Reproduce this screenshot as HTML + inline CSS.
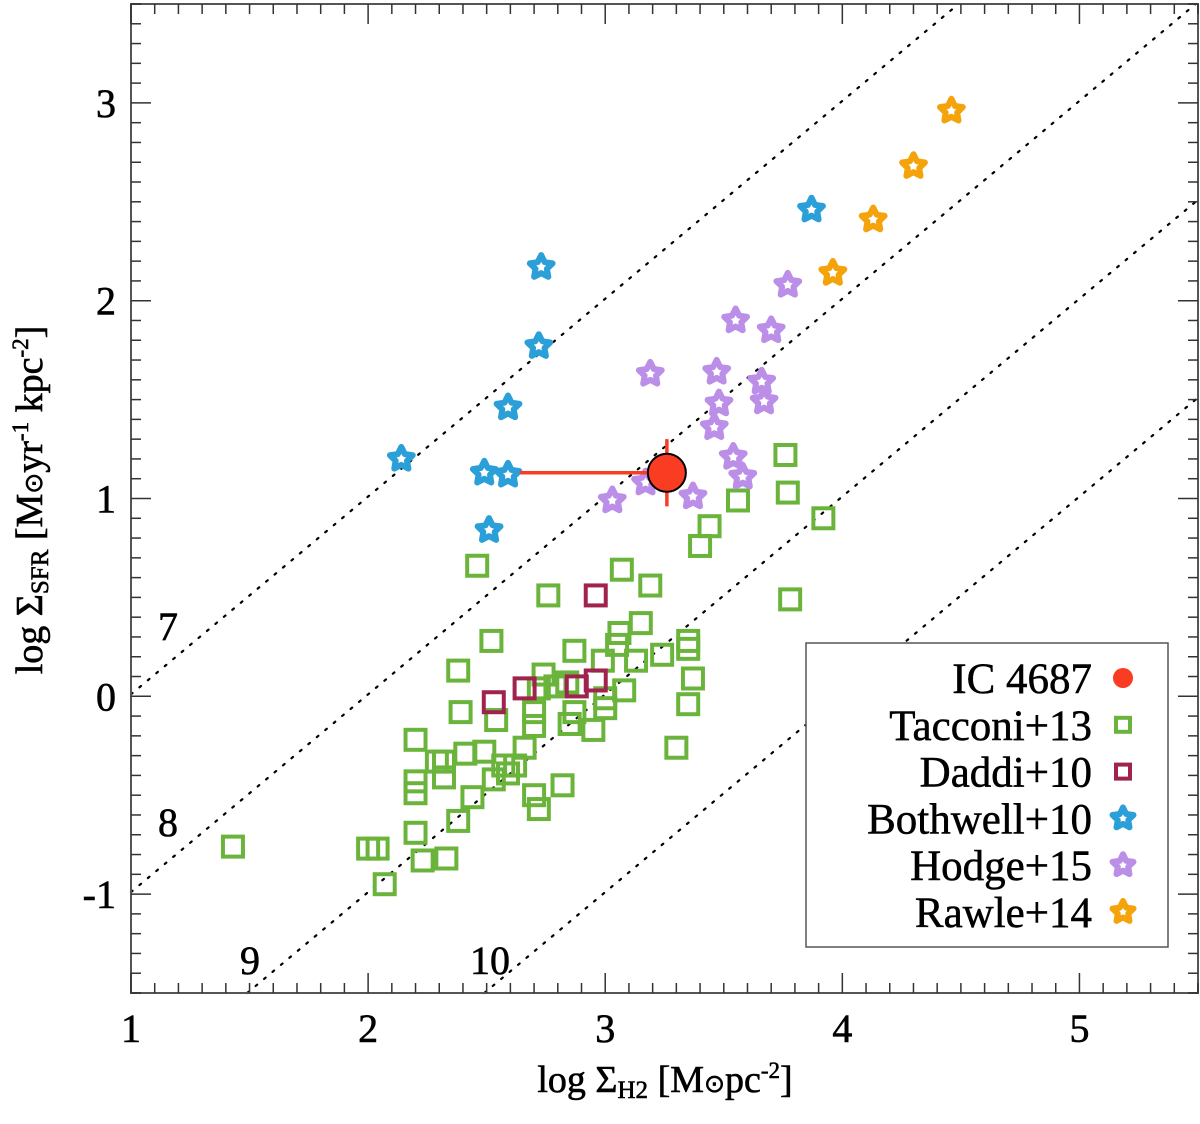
<!DOCTYPE html>
<html><head><meta charset="utf-8"><style>
body{margin:0;background:#fff}
svg text{font-family:"Liberation Serif",serif;fill:#000}
</style></head><body>
<svg id="chart" width="1200" height="1119" xmlns="http://www.w3.org/2000/svg">
<g id="lines"></g>
<g id="axes"></g>
<g id="marks"></g>
<g id="legend"></g>
<text x="665" y="1092" font-size="38" text-anchor="middle" stroke="#000" stroke-width="0.6">log Σ<tspan font-size="25" dy="6">H2</tspan><tspan dy="-6">  [M</tspan><tspan font-family="DejaVu Sans" font-size="25">⊙</tspan><tspan>pc</tspan><tspan font-size="23" dy="-14">-2</tspan><tspan dy="14">]</tspan></text>
<text transform="translate(42,500) rotate(-90)" font-size="38" text-anchor="middle" stroke="#000" stroke-width="0.6">log Σ<tspan font-size="25" dy="6">SFR</tspan><tspan dy="-6"> [M</tspan><tspan font-family="DejaVu Sans" font-size="25">⊙</tspan><tspan>yr</tspan><tspan font-size="23" dy="-14">-1</tspan><tspan dy="14"> kpc</tspan><tspan font-size="23" dy="-14">-2</tspan><tspan dy="14">]</tspan></text>
</svg>
<script>
const xTicks=[1,2,3,4,5];
const yTicks=[-1,0,1,2,3];
const depletionTimes=[7,8,9,10];
const ic4687=[3.26,1.13]; const icXerrLow=2.64; const icYerr=[0.96,1.30];
const taccX=[1.43,2.46,2.76,3.07,3.19,3.40,2.52,2.87,3.15,3.06,3.05,2.99,3.13,3.24,3.35,3.35,2.38,2.39,2.54,2.74,2.72,2.79,2.84,3.08,3.00,3.37,3.35,2.70,2.70,2.87,2.85,2.95,3.00,2.20,2.29,2.32,2.41,2.49,2.57,2.62,2.59,2.66,3.30,2.20,2.20,2.32,2.53,2.44,2.70,2.72,2.82,2.38,2.20,2.00,2.04,2.23,2.33,2.07,3.76,3.77,3.92,3.78,3.44,3.56];
const taccY=[-0.76,0.66,0.51,0.64,0.56,0.76,0.28,0.23,0.37,0.32,0.26,0.18,0.18,0.21,0.28,0.24,0.13,-0.08,-0.12,0.11,0.04,0.05,0.07,0.03,-0.01,0.09,-0.04,-0.08,-0.15,-0.08,-0.14,-0.17,-0.06,-0.22,-0.33,-0.33,-0.29,-0.28,-0.35,-0.35,-0.39,-0.26,-0.26,-0.43,-0.49,-0.41,-0.42,-0.51,-0.50,-0.57,-0.45,-0.63,-0.69,-0.77,-0.77,-0.83,-0.82,-0.95,1.22,1.03,0.90,0.49,0.86,0.99];
const daddiX=[2.96,2.53,2.66,2.88,2.96];
const daddiY=[0.51,-0.03,0.04,0.05,0.08];
const bothX=[3.87,2.73,2.72,2.59,2.14,2.49,2.59,2.51];
const bothY=[2.46,2.17,1.77,1.46,1.20,1.13,1.12,0.84];
const hodgeX=[3.19,3.47,3.48,3.46,3.55,3.77,3.70,3.66,3.67,3.54,3.58,3.37,3.03,3.17];
const hodgeY=[1.63,1.64,1.48,1.36,1.90,2.08,1.85,1.59,1.49,1.21,1.11,1.01,0.99,1.08];
const rawleX=[4.46,4.30,4.13,3.96];
const rawleY=[2.96,2.68,2.41,2.14];
const legendLabels=["IC 4687","Tacconi+13","Daddi+10","Bothwell+10","Hodge+15","Rawle+14"];

const L=131,R=1198,T=4,B=993,X0=1,X1=5.5,Y0=-1.5,Y1=3.5;
const sx=v=>L+(v-X0)/(X1-X0)*(R-L), sy=v=>B-(v-Y0)/(Y1-Y0)*(B-T);
const NS='http://www.w3.org/2000/svg';
function mk(t,a,p){const e=document.createElementNS(NS,t);for(const k in a)e.setAttribute(k,a[k]);p.appendChild(e);return e;}
const GR='#6ab43c',MR='#a0234e',BL='#2a9fd8',VI='#bb8ee8',OR='#f5a30a',RD='#fa3c23';

const lg=document.getElementById('lines');
depletionTimes.forEach(t=>{const off=6-t+0.01;
 const xa=Math.max(X0,Y0-off), xb=Math.min(X1,Y1-off);
 const l=mk('line',{x1:sx(xa),y1:sy(xa+off),x2:sx(xb),y2:sy(xb+off),stroke:'#000','stroke-width':2.2,'stroke-dasharray':'2 9','stroke-linecap':'round'},lg);
 
 
});
[['7',168,640],['8',168,836],['9',250,974],['10',490,974]].forEach(d=>{const e=mk('text',{x:d[1],y:d[2],'font-size':40,'text-anchor':'middle',stroke:'#000','stroke-width':0.6},lg);e.textContent=d[0];
 
 });

const ax=document.getElementById('axes');
const fr=mk('rect',{x:L,y:T,width:R-L,height:B-T,fill:'none',stroke:'#555','stroke-width':2},ax);


for(let v=X0;v<=X1+1e-9;v+=0.1){const maj=Math.abs(v-Math.round(v))<1e-6;const len=maj?20:10;const x=sx(v);
 mk('line',{x1:x,y1:B,x2:x,y2:B-len,stroke:'#333','stroke-width':1.5},ax);
 mk('line',{x1:x,y1:T,x2:x,y2:T+len,stroke:'#333','stroke-width':1.5},ax);}
for(let v=Y0;v<=Y1+1e-9;v+=0.1){const maj=Math.abs(v-Math.round(v))<1e-6;const len=maj?20:10;const y=sy(v);
 mk('line',{x1:L,y1:y,x2:L+len,y2:y,stroke:'#333','stroke-width':1.5},ax);
 mk('line',{x1:R,y1:y,x2:R-len,y2:y,stroke:'#333','stroke-width':1.5},ax);}
xTicks.forEach(v=>{const e=mk('text',{x:sx(v),y:1042,'font-size':40,'text-anchor':'middle',stroke:'#000','stroke-width':0.6},ax);e.textContent=v;
 
 });
yTicks.forEach(v=>{const e=mk('text',{x:116,y:sy(v)+14,'font-size':40,'text-anchor':'end',stroke:'#000','stroke-width':0.6},ax);e.textContent=v;
 
 });

const mg=document.getElementById('marks');
function square(x,y,c,s,p){return mk('rect',{x:x-s,y:y-s,width:2*s,height:2*s,fill:'none',stroke:c,'stroke-width':4},p);}
function star(x,y,c,r,p){let pts=[];for(let i=0;i<10;i++){const a=-Math.PI/2+i*Math.PI/5;const rr=i%2?r*0.5:r;pts.push((x+rr*Math.cos(a)).toFixed(1)+','+(y+rr*Math.sin(a)).toFixed(1));}
 return mk('polygon',{points:pts.join(' '),fill:'#fff',stroke:c,'stroke-width':6,'stroke-linejoin':'round'},p);}
taccX.forEach((v,i)=>{const e=square(sx(v),sy(taccY[i]),GR,10,mg);
 
 });
daddiX.forEach((v,i)=>{const e=square(sx(v),sy(daddiY[i]),MR,10,mg);
 
 });
hodgeX.forEach((v,i)=>{const e=star(sx(v),sy(hodgeY[i]),VI,12,mg);
 
 });
bothX.forEach((v,i)=>{const e=star(sx(v),sy(bothY[i]),BL,12,mg);
 
 });
rawleX.forEach((v,i)=>{const e=star(sx(v),sy(rawleY[i]),OR,12,mg);
 
 });
const eb=mk('g',{},mg);


mk('line',{x1:sx(icXerrLow),y1:sy(ic4687[1]),x2:sx(ic4687[0]),y2:sy(ic4687[1]),stroke:RD,'stroke-width':3.5},eb);
mk('line',{x1:sx(ic4687[0]),y1:sy(icYerr[0]),x2:sx(ic4687[0]),y2:sy(icYerr[1]),stroke:RD,'stroke-width':3.5},eb);
const ic=mk('circle',{cx:sx(ic4687[0]),cy:sy(ic4687[1]),r:19,fill:RD,stroke:'#000','stroke-width':2},mg);



const lgd=document.getElementById('legend');
const lb=mk('rect',{x:806,y:643,width:362,height:304,fill:'#fff',stroke:'#555','stroke-width':1.5},lgd);


legendLabels.forEach((s,i)=>{const y=678+i*46.8;
 const t=mk('text',{x:1092,y:y+15,'font-size':43,'text-anchor':'end',stroke:'#000','stroke-width':0.5},lgd);t.textContent=s;
 
 
 let m;
 if(i==0)m=mk('circle',{cx:1123,cy:y,r:10,fill:RD},lgd);
 else if(i==1)m=square(1123,y,GR,7,lgd);
 else if(i==2)m=square(1123,y,MR,7,lgd);
 else m=star(1123,y,[BL,VI,OR][i-3],11,lgd);
 
 
});
</script>
</body></html>
